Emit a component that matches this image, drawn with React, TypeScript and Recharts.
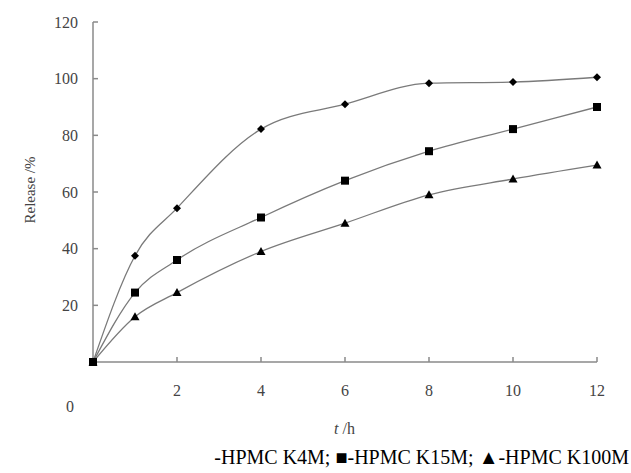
import { LineChart, Line, XAxis, YAxis } from "recharts";

const hours = [0, 1, 2, 4, 6, 8, 10, 12];
const k4m = [0, 37.5, 54.3, 82.2, 91, 98.4, 98.8, 100.5];
const k15m = [0, 24.5, 36, 51, 64, 74.4, 82.2, 90];
const k100m = [0, 16, 24.5, 39, 49, 59, 64.6, 69.5];

const xTicks = [2, 4, 6, 8, 10, 12];
const yTicks = [20, 40, 60, 80, 100, 120];

const data = hours.map((t, i) => ({
  t,
  k4m: k4m[i],
  k15m: k15m[i],
  k100m: k100m[i],
}));

const FONT = "Liberation Serif, Tinos, Times New Roman, DejaVu Serif, serif";
const LINE = "#7a7a7a";
const AXIS = "#8a8a8a";

function Diamond(props: any) {
  const { cx, cy, index } = props;
  const s = 4;
  return (
    <path
      key={`d-${index}`}
      d={`M${cx},${cy - s}L${cx + s},${cy}L${cx},${cy + s}L${cx - s},${cy}Z`}
      fill="#000"
    />
  );
}

function Square(props: any) {
  const { cx, cy, index } = props;
  return <rect key={`s-${index}`} x={cx - 4} y={cy - 4} width={8} height={8} fill="#000" />;
}

function Triangle(props: any) {
  const { cx, cy, index } = props;
  return (
    <path
      key={`t-${index}`}
      d={`M${cx},${cy - 4.5}L${cx + 4.5},${cy + 3.5}L${cx - 4.5},${cy + 3.5}Z`}
      fill="#000"
    />
  );
}

export default function App() {
  const tick = { fontSize: 16, fill: "#444", fontFamily: FONT };
  return (
    <div style={{ position: "absolute", left: 0, top: 0, width: 631, height: 473, background: "#fff", fontFamily: FONT }}>
      <LineChart
        width={631}
        height={473}
        data={data}
        margin={{ top: 22, right: 34, left: 33, bottom: 81 }}
        style={{ fontFamily: FONT }}
      >
        <XAxis
          dataKey="t"
          type="number"
          domain={[0, 12]}
          ticks={xTicks}
          stroke={AXIS}
          strokeWidth={1.5}
          tick={tick}
          tickSize={-5}
          tickMargin={28}
          height={30}
        />
        <YAxis
          type="number"
          domain={[0, 120]}
          ticks={yTicks}
          stroke={AXIS}
          strokeWidth={1.5}
          tick={tick}
          tickSize={-5}
          tickMargin={20}
          width={60}
        />
        <Line
          type="monotone"
          dataKey="k4m"
          stroke={LINE}
          strokeWidth={1.3}
          dot={Diamond}
          isAnimationActive={false}
        />
        <Line
          type="monotone"
          dataKey="k15m"
          stroke={LINE}
          strokeWidth={1.3}
          dot={Square}
          isAnimationActive={false}
        />
        <Line
          type="monotone"
          dataKey="k100m"
          stroke={LINE}
          strokeWidth={1.3}
          dot={Triangle}
          isAnimationActive={false}
        />
      </LineChart>
      <div
        style={{
          position: "absolute",
          left: 30,
          top: 190,
          transform: "translate(-50%, -50%) rotate(-90deg)",
          fontSize: 15,
          color: "#444",
          whiteSpace: "nowrap",
        }}
      >
        Release /%
      </div>
      <div style={{ position: "absolute", left: 66, top: 398, fontSize: 16, color: "#444" }}>0</div>
      <div style={{ position: "absolute", left: 334, top: 420, fontSize: 16, color: "#444" }}>
        <i>t</i> /h
      </div>
      <div
        style={{
          position: "absolute",
          right: 2,
          top: 446,
          fontSize: 20,
          color: "#000",
          whiteSpace: "nowrap",
        }}
      >
        -HPMC K4M; ■-HPMC K15M; ▲-HPMC K100M
      </div>
    </div>
  );
}
